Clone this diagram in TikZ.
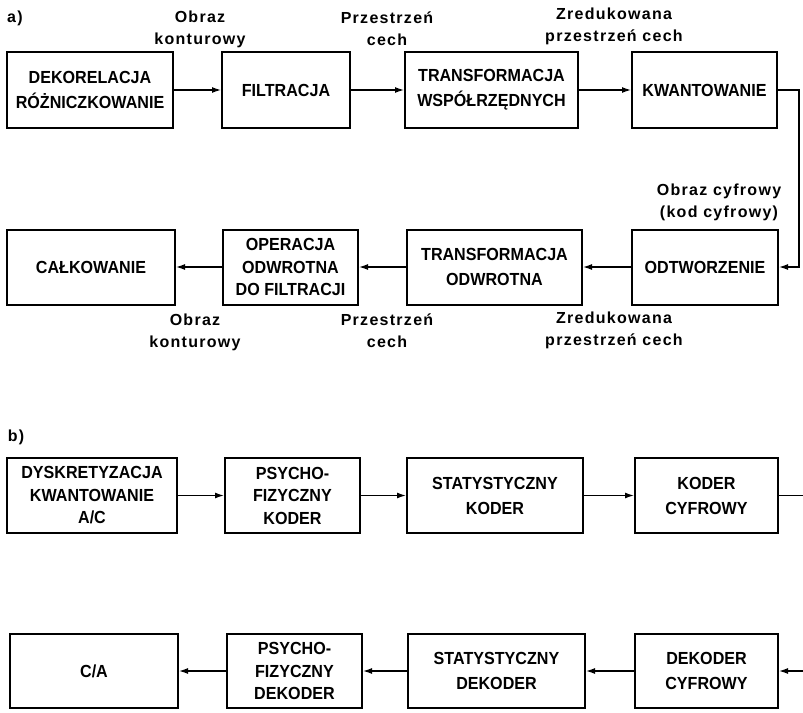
\documentclass[tikz,border=0pt]{standalone}
\usepackage{fontspec}
\setmainfont{Liberation Sans}
\newfontfamily\boxfont[FakeStretch=0.92]{Liberation Sans Bold}
\newfontfamily\labfont[LetterSpace=8]{Liberation Sans Bold}
\usetikzlibrary{arrows.meta}

\begin{document}
\begin{tikzpicture}[x=1pt,y=-1pt,
  blk/.style={draw, line width=2pt, inner sep=0pt, align=center,
    font=\boxfont\fontsize{17.5}{25}\selectfont},
  blkthree/.style={blk, font=\boxfont\fontsize{17.5}{22.5}\selectfont},
  lbl/.style={align=center, inner sep=0pt, font=\labfont\fontsize{16}{22}\selectfont},
  tag/.style={inner sep=0pt, font=\labfont\fontsize{16}{18}\selectfont},
  wire/.style={line width=1.3pt},
  conn/.style={wire, -{Latex[length=9pt,width=6pt]}}]
\useasboundingbox (0,0) rectangle (803,712);

% ---------- a) ----------
\node[tag] (ta) at (15,18) {a)};

\node[blk, minimum width=166pt, minimum height=76pt] (a1) at (90,90) {DEKORELACJA\\RÓŻNICZKOWANIE};
\node[blk, minimum width=128pt, minimum height=76pt] (a2) at (286,90) {FILTRACJA};
\node[blk, minimum width=173pt, minimum height=76pt] (a3) at (491.5,90) {TRANSFORMACJA\\WSPÓŁRZĘDNYCH};
\node[blk, minimum width=145pt, minimum height=76pt] (a4) at (704.5,90) {KWANTOWANIE};

\node[blk, minimum width=168pt, minimum height=75pt] (b1) at (91,267) {CAŁKOWANIE};
\node[blkthree, minimum width=135pt, minimum height=75pt] (b2) at (290.5,267) {OPERACJA\\ODWROTNA\\DO FILTRACJI};
\node[blk, minimum width=175pt, minimum height=75pt] (b3) at (494.5,267) {TRANSFORMACJA\\ODWROTNA};
\node[blk, minimum width=146pt, minimum height=75pt] (b4) at (705,267) {ODTWORZENIE};

\node[lbl] (la1) at (200,29) {Obraz\\konturowy};
\node[lbl] (la2) at (387,28.5) {Przestrzeń\\cech};
\node[lbl] (la3) at (614,26) {Zredukowana\\przestrzeń cech};
\node[lbl] (lc) at (719,202) {Obraz cyfrowy\\(kod cyfrowy)};
\node[lbl] (lb1) at (195,332) {Obraz\\konturowy};
\node[lbl] (lb2) at (387,331) {Przestrzeń\\cech};
\node[lbl] (lb3) at (614,330) {Zredukowana\\przestrzeń cech};

\draw[conn] (a1) -- (a2);
\draw[conn] (a2) -- (a3);
\draw[conn] (a3) -- (a4);
\draw[conn] (a4.east) -- ++(21,0) |- (b4.east);
\draw[conn] (b4) -- (b3);
\draw[conn] (b3) -- (b2);
\draw[conn] (b2) -- (b1);

% ---------- b) ----------
\node[tag] (tb) at (16,437) {b)};

\node[blkthree, minimum width=170pt, minimum height=75pt] (c1) at (92,495.5) {DYSKRETYZACJA\\KWANTOWANIE\\A/C};
\node[blkthree, minimum width=135pt, minimum height=75pt] (c2) at (292.5,495.5) {PSYCHO-\\FIZYCZNY\\KODER};
\node[blk, minimum width=176pt, minimum height=75pt] (c3) at (495,495.5) {STATYSTYCZNY\\KODER};
\node[blk, minimum width=143pt, minimum height=75pt] (c4) at (706.5,495.5) {KODER\\CYFROWY};

\node[blk, minimum width=168pt, minimum height=74pt] (d1) at (94,671) {C/A};
\node[blkthree, minimum width=135pt, minimum height=74pt] (d2) at (294.5,671) {PSYCHO-\\FIZYCZNY\\DEKODER};
\node[blk, minimum width=177pt, minimum height=74pt] (d3) at (496.5,671) {STATYSTYCZNY\\DEKODER};
\node[blk, minimum width=143pt, minimum height=74pt] (d4) at (706.5,671) {DEKODER\\CYFROWY};

\coordinate (cout) at (803,495.5);
\coordinate (din) at (803,671);

\draw[conn] (c1) -- (c2);
\draw[conn] (c2) -- (c3);
\draw[conn] (c3) -- (c4);
\draw[wire] (c4) -- (cout);
\draw[conn] (din) -- (d4);
\draw[conn] (d4) -- (d3);
\draw[conn] (d3) -- (d2);
\draw[conn] (d2) -- (d1);
\end{tikzpicture}
\end{document}
